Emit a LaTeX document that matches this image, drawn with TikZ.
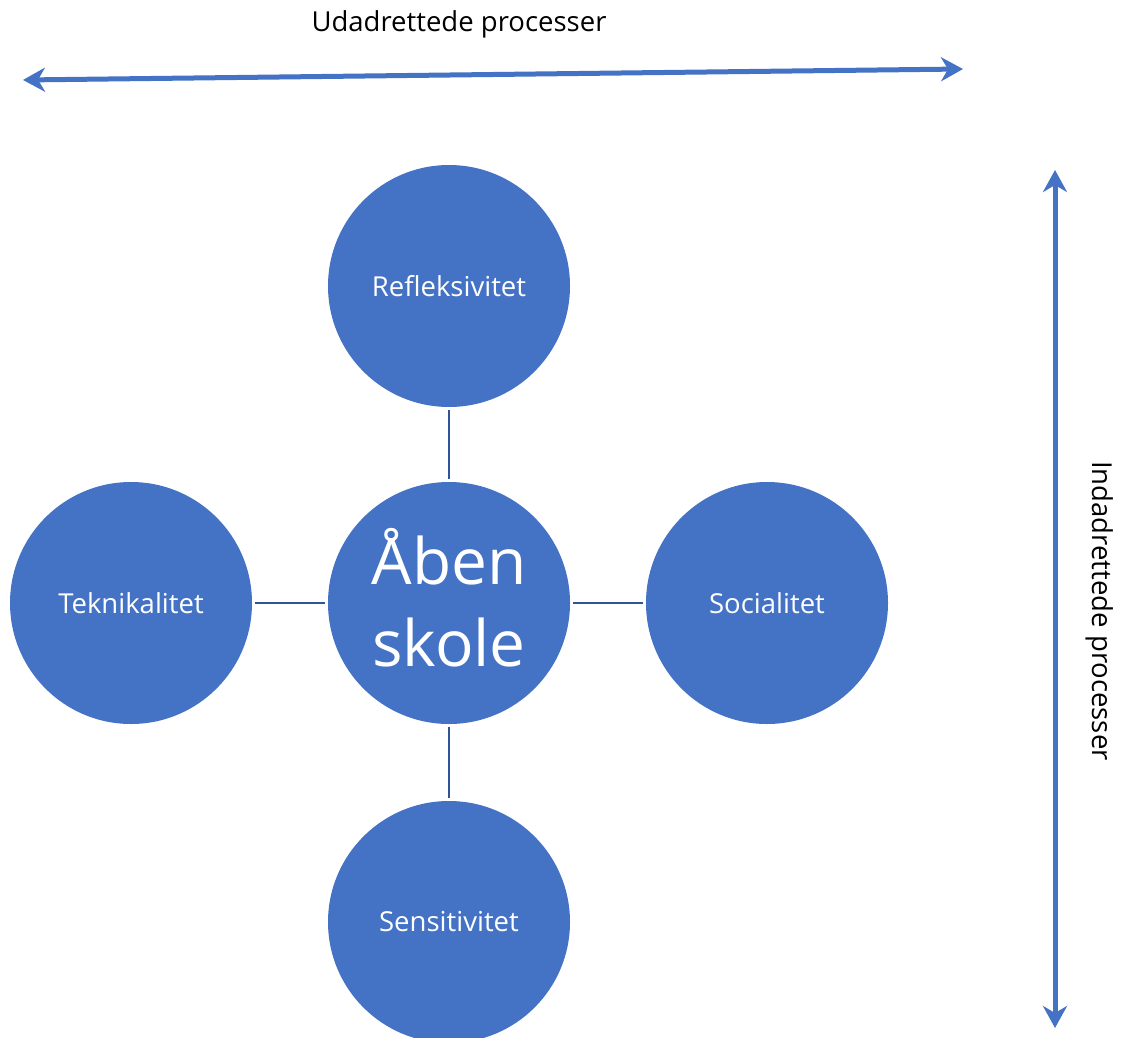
\documentclass[tikz,border=0pt]{standalone}
\usepackage{fontspec}
\setmainfont{Open Sans}
\usetikzlibrary{arrows.meta}
\definecolor{cfill}{HTML}{4472C4}
\definecolor{cline}{HTML}{2F5597}
\tikzset{
  bubble/.style={circle, fill=cfill, minimum size=242pt, inner sep=0pt, text=white, font=\fontsize{27.5}{32}\selectfont},
  link/.style={draw=cline, line width=2.4pt, shorten <=3pt, shorten >=3pt},
  bigarrow/.style={draw=cfill, line width=5pt, {Stealth[length=22pt,width=24pt,inset=7pt]}-{Stealth[length=22pt,width=24pt,inset=7pt]}},
  label/.style={font=\fontsize{27.5}{32}\selectfont, text=black}
}
\begin{document}
\begin{tikzpicture}[x=1pt,y=-1pt]
\useasboundingbox (0,0) rectangle (1127,1038);
\clip (0,0) rectangle (1127,1038);
\node[bubble] (top) at (449,286) {Refleksivitet};
\node[bubble] (left) at (131,603) {Teknikalitet};
\node[bubble] (right) at (767,603) {Socialitet};
\node[bubble] (bot) at (449,922) {Sensitivitet};
\node[bubble] (mid) at (449,603) {};
\node[font=\fontsize{64}{82}\selectfont, text=white, align=center, inner sep=0pt] (midtext) at (449,598) {Åben\\skole};
\draw[link] (top) -- (mid);
\draw[link] (left) -- (mid);
\draw[link] (mid) -- (right);
\draw[link] (mid) -- (bot);
\coordinate (hl) at (23,80);
\coordinate (hr) at (963,69);
\draw[bigarrow] (hl) -- (hr);
\coordinate (vt) at (1055,170);
\coordinate (vb) at (1055,1028);
\draw[bigarrow] (vt) -- (vb);
\node[label] (ht) at (459,24) {Udadrettede processer};
\node[label, rotate=-90] (vtext) at (1100,611) {Indadrettede processer};
\end{tikzpicture}
\end{document}
